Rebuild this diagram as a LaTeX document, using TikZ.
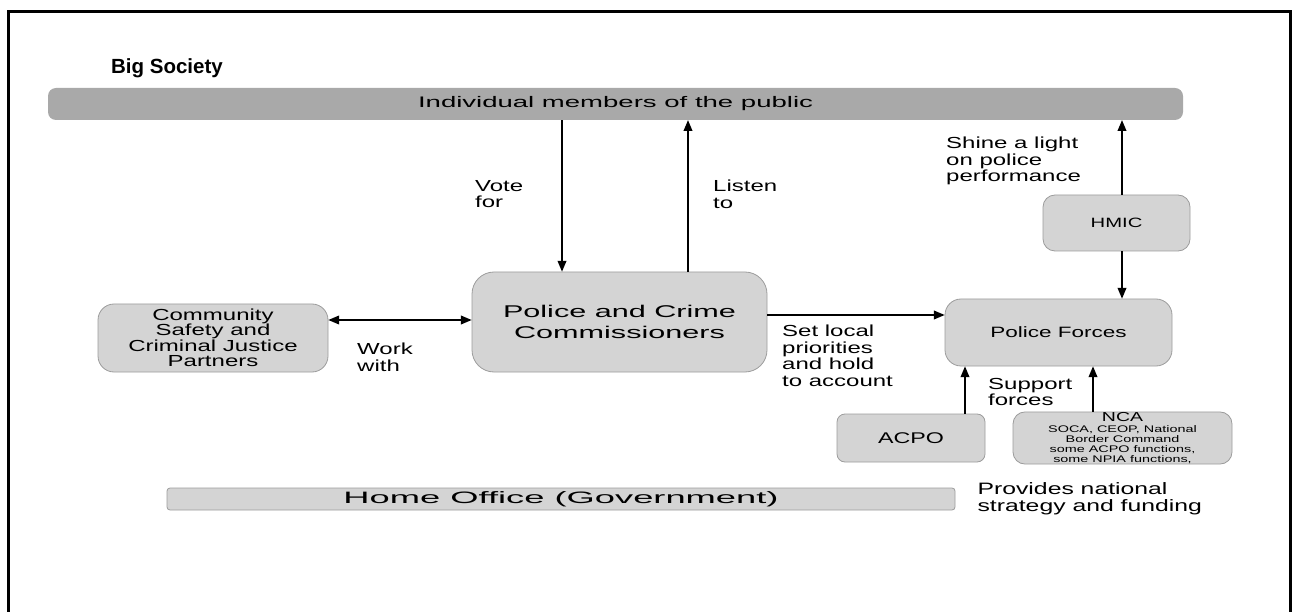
\documentclass[tikz,border=0pt]{standalone}
\usepackage{fontspec}
\setmainfont{Liberation Sans}[FakeStretch=1.5]
\newfontfamily\wideface{Liberation Sans}[FakeStretch=1.8]
\newfontfamily\homeface{Liberation Sans}[FakeStretch=2.2]
\newfontfamily\titleface{Liberation Sans}
\usetikzlibrary{arrows,positioning}

\definecolor{boxfill}{HTML}{D4D4D4}
\definecolor{boxedge}{HTML}{9C9C9C}
\definecolor{publicgrey}{HTML}{A9A9A9}

\begin{document}
\begin{tikzpicture}[x=1pt,y=-1pt,>=triangle 45,
                    box/.style={rectangle,draw=boxedge,fill=boxfill,line width=0.8pt,
                                rounded corners=#1,align=center,inner sep=0pt},
                    box/.default=14pt,
                    bar/.style={rectangle,inner sep=0pt,align=center},
                    lbl/.style={align=left,anchor=north west,inner sep=0pt,
                                font=\fontsize{16}{16.5}\selectfont},
                    link/.style={->,line width=1.5pt},
                    frame/.style={line width=3pt}]
\useasboundingbox (0,0) rectangle (1296,612);
\draw[frame] (8,612) -- (8,12) -- (1290,12) -- (1290,612);

\node[font=\titleface\bfseries\fontsize{20.5}{22}\selectfont] (title) at (167,68) {Big Society};
\node[bar,fill=publicgrey,rounded corners=8pt,minimum width=1135pt,minimum height=32pt,
      font=\wideface\fontsize{15.3}{17}\selectfont] (public) at (615.5,104) {Individual members of the public};

\node[box=22pt,minimum width=295pt,minimum height=100pt,
      font=\wideface\fontsize{17}{21}\selectfont] (pcc) at (619.5,322) {Police and Crime\\Commissioners};
\node[box=16pt,minimum width=230pt,minimum height=68pt,
      font=\fontsize{16}{15.5}\selectfont] (comm) at (213,338) {Community\\Safety and\\Criminal Justice\\Partners};
\node[box=16pt,minimum width=227pt,minimum height=67pt,
      font=\fontsize{15}{16}\selectfont] (pf) at (1058.5,332.5) {Police Forces};
\node[box=12pt,minimum width=147pt,minimum height=56pt,
      font=\fontsize{13.5}{14}\selectfont] (hmic) at (1116.5,223) {HMIC};
\node[box=8pt,minimum width=148pt,minimum height=48pt,
      font=\fontsize{15.5}{16}\selectfont] (acpo) at (911,438) {ACPO};
\node[box=12pt,minimum width=219pt,minimum height=48pt,
      font=\fontsize{9.6}{10.2}\selectfont] (nca) at (1122.5,438)
      {{\fontsize{13}{13}\selectfont NCA}\\[1pt]SOCA, CEOP, National\\Border Command\\some ACPO functions,\\some NPIA functions,};
\node[bar,fill=boxfill,draw=boxedge,line width=0.8pt,rounded corners=3pt,minimum width=788pt,minimum height=22pt,
      font=\homeface\fontsize{16.5}{18}\selectfont] (home) at (561,499) {Home Office (Government)};

% labels on the links
\node[lbl] (votefor) at (475,180) {Vote\\for};
\node[lbl] (listento) at (713,180) {Listen\\to};
\node[lbl] (workwith) at (357,343) {Work\\with};
\node[lbl] (setlocal) at (782,325) {Set local\\priorities\\and hold\\to account};
\node[lbl] (shine) at (946,137) {Shine a light\\on police\\performance};
\node[lbl] (support) at (988,378) {Support\\forces};
\node[lbl,right=22pt of home,font=\fontsize{16.5}{17}\selectfont] (provides) {Provides national\\strategy and funding};

\draw[link] ([xshift=-57.5pt]pcc.north |- public.south) -- ([xshift=-57.5pt]pcc.north);
\draw[link] ([xshift=68.5pt]pcc.north) -- ([xshift=68.5pt]pcc.north |- public.south);
\draw[link,<->] ([yshift=18pt]comm.east) -- ([yshift=18pt]comm.east -| pcc.west);
\draw[link] ([yshift=7pt]pcc.east) -- ([yshift=7pt]pcc.east -| pf.west);
\draw[link] ([xshift=5.5pt]hmic.north) -- ([xshift=5.5pt]hmic.north |- public.south);
\draw[link] ([xshift=5.5pt]hmic.south) -- ([xshift=5.5pt]hmic.south |- pf.north);
\draw[link] ([xshift=54pt]acpo.north) -- ([xshift=54pt]acpo.north |- pf.south);
\draw[link] ([xshift=-29.5pt]nca.north) -- ([xshift=-29.5pt]nca.north |- pf.south);

\end{tikzpicture}
\end{document}
